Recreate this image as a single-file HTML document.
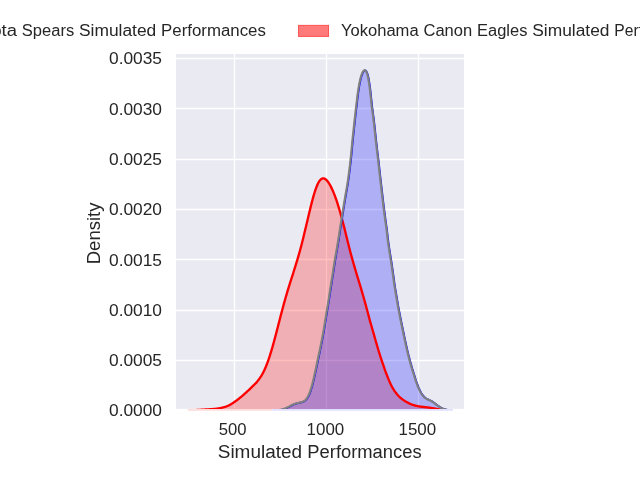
<!DOCTYPE html>
<html><head><meta charset="utf-8"><title>KDE</title>
<style>
html,body{margin:0;padding:0;background:#ffffff;}
body{width:640px;height:480px;overflow:hidden;}
svg{display:block;will-change:transform;}
text{font-family:"Liberation Sans",sans-serif;fill:#262626;}
</style></head><body>
<svg width="640" height="480" viewBox="0 0 640 480">
<rect x="0" y="0" width="640" height="480" fill="#ffffff"/>
<rect x="176" y="54" width="288" height="354.85" fill="#eaeaf2"/>
<g stroke="#ffffff" stroke-width="1.3">
<line x1="176" x2="464" y1="58.50" y2="58.50"/>
<line x1="176" x2="464" y1="108.50" y2="108.50"/>
<line x1="176" x2="464" y1="159.50" y2="159.50"/>
<line x1="176" x2="464" y1="209.50" y2="209.50"/>
<line x1="176" x2="464" y1="259.50" y2="259.50"/>
<line x1="176" x2="464" y1="310.50" y2="310.50"/>
<line x1="176" x2="464" y1="360.50" y2="360.50"/>
<line x1="234.50" x2="234.50" y1="54" y2="408.85"/>
<line x1="326.50" x2="326.50" y1="54" y2="408.85"/>
<line x1="418.50" x2="418.50" y1="54" y2="408.85"/>
</g>
<rect x="188" y="408.85" width="84.3" height="1.9" fill="#ffdcdc"/>
<rect x="272.3" y="408.85" width="180.5" height="1.9" fill="#e2e0ff"/>
<defs><clipPath id="ax"><rect x="176" y="54" width="288" height="354.9"/></clipPath></defs>
<g clip-path="url(#ax)">
<path d="M187.00,410.59 L187.50,410.58 L188.00,410.55 L188.50,410.53 L189.00,410.51 L189.50,410.49 L190.00,410.46 L190.50,410.44 L191.00,410.41 L191.50,410.38 L192.00,410.36 L192.50,410.33 L193.00,410.30 L193.50,410.27 L194.00,410.24 L194.50,410.20 L195.00,410.17 L195.50,410.14 L196.00,410.11 L196.50,410.07 L197.00,410.04 L197.50,410.01 L198.00,409.97 L198.50,409.94 L199.00,409.91 L199.50,409.87 L200.00,409.84 L200.50,409.81 L201.00,409.77 L201.50,409.74 L202.00,409.71 L202.50,409.68 L203.00,409.65 L203.50,409.62 L204.00,409.59 L204.50,409.56 L205.00,409.53 L205.50,409.50 L206.00,409.48 L206.50,409.45 L207.00,409.42 L207.50,409.40 L208.00,409.37 L208.50,409.34 L209.00,409.31 L209.50,409.28 L210.00,409.25 L210.50,409.22 L211.00,409.19 L211.50,409.16 L212.00,409.12 L212.50,409.08 L213.00,409.04 L213.50,409.00 L214.00,408.95 L214.50,408.90 L215.00,408.84 L215.50,408.80 L216.00,408.76 L216.50,408.71 L217.00,408.65 L217.50,408.59 L218.00,408.52 L218.50,408.45 L219.00,408.36 L219.50,408.27 L220.00,408.18 L220.50,408.07 L221.00,407.95 L221.50,407.83 L222.00,407.70 L222.50,407.59 L223.00,407.47 L223.50,407.35 L224.00,407.21 L224.50,407.06 L225.00,406.91 L225.50,406.74 L226.00,406.57 L226.50,406.38 L227.00,406.19 L227.50,405.98 L228.00,405.77 L228.50,405.54 L229.00,405.31 L229.50,405.07 L230.00,404.82 L230.50,404.53 L231.00,404.23 L231.50,403.92 L232.00,403.61 L232.50,403.28 L233.00,402.95 L233.50,402.62 L234.00,402.28 L234.50,401.93 L235.00,401.58 L235.50,401.22 L236.00,400.86 L236.50,400.50 L237.00,400.13 L237.50,399.75 L238.00,399.36 L238.50,398.97 L239.00,398.58 L239.50,398.19 L240.00,397.79 L240.50,397.39 L241.00,396.99 L241.50,396.59 L242.00,396.19 L242.50,395.74 L243.00,395.29 L243.50,394.84 L244.00,394.39 L244.50,393.93 L245.00,393.48 L245.50,393.03 L246.00,392.58 L246.50,392.12 L247.00,391.67 L247.50,391.20 L248.00,390.74 L248.50,390.27 L249.00,389.80 L249.50,389.33 L250.00,388.85 L250.50,388.38 L251.00,387.89 L251.50,387.41 L252.00,386.91 L252.50,386.44 L253.00,385.95 L253.50,385.46 L254.00,384.96 L254.50,384.44 L255.00,383.91 L255.57,383.37 L256.31,382.81 L256.95,381.75 L257.45,381.18 L257.95,380.58 L258.45,379.96 L258.95,379.31 L259.45,378.64 L259.95,377.93 L260.45,377.19 L260.95,376.42 L261.45,375.62 L261.95,374.77 L262.45,373.89 L262.95,372.96 L263.45,372.00 L263.95,370.99 L264.45,369.94 L264.95,368.84 L265.45,367.70 L265.95,366.50 L266.45,365.27 L266.95,363.98 L267.46,362.65 L267.96,361.27 L268.46,359.85 L268.96,358.38 L269.47,356.87 L269.97,355.31 L270.47,353.71 L270.98,352.08 L271.48,350.40 L271.99,348.69 L272.49,346.95 L272.99,345.17 L273.50,343.37 L274.00,341.54 L274.50,339.68 L275.00,337.81 L275.50,335.92 L276.00,334.01 L276.50,332.09 L277.00,330.16 L277.50,328.22 L278.00,326.28 L278.50,324.33 L279.00,322.39 L279.50,320.45 L280.00,318.51 L280.50,316.58 L281.00,314.66 L281.50,312.76 L282.00,310.86 L282.50,308.98 L283.00,307.11 L283.50,305.26 L284.00,303.43 L284.50,301.62 L285.00,299.82 L285.50,298.05 L286.00,296.29 L286.51,294.56 L287.02,292.84 L287.53,291.14 L288.03,289.46 L288.54,287.81 L289.05,286.16 L289.56,284.54 L290.06,282.93 L290.57,281.34 L291.08,279.76 L291.59,278.19 L292.09,276.63 L292.60,275.08 L293.08,273.53 L293.56,271.99 L294.04,270.45 L294.52,268.91 L295.00,267.37 L295.48,265.83 L295.96,264.27 L296.44,262.71 L296.92,261.13 L297.40,259.54 L297.88,257.93 L298.36,256.30 L298.83,254.65 L299.31,252.98 L299.79,251.27 L300.27,249.54 L300.74,247.79 L301.22,246.00 L301.69,244.17 L302.17,242.32 L302.64,240.43 L303.12,238.51 L303.59,236.56 L304.06,234.58 L304.54,232.57 L305.01,230.53 L305.50,228.49 L306.00,226.43 L306.50,224.35 L307.00,222.25 L307.50,220.15 L308.00,218.04 L308.50,215.93 L309.00,213.82 L309.50,211.73 L310.00,209.66 L310.50,207.61 L311.00,205.58 L311.50,203.60 L312.00,201.65 L312.50,199.76 L313.00,197.92 L313.50,196.14 L314.00,194.42 L314.50,192.78 L315.00,191.21 L315.50,189.70 L316.00,188.28 L316.50,186.95 L317.00,185.71 L317.50,184.56 L318.00,183.51 L318.50,182.56 L319.00,181.71 L319.50,180.96 L320.00,180.30 L320.50,179.75 L321.00,179.29 L321.50,178.92 L322.00,178.66 L322.50,178.48 L323.00,178.39 L323.50,178.39 L324.00,178.48 L324.50,178.64 L325.00,178.89 L325.50,179.21 L326.00,179.60 L326.50,180.05 L327.00,180.58 L327.50,181.17 L328.00,181.81 L328.50,182.52 L329.00,183.28 L329.50,184.10 L330.00,184.97 L330.50,185.89 L331.00,186.86 L331.50,187.88 L332.00,188.95 L332.50,190.04 L333.00,191.18 L333.50,192.36 L334.00,193.59 L334.50,194.87 L335.00,196.19 L335.50,197.55 L336.00,198.96 L336.50,200.41 L337.00,201.91 L337.50,203.45 L338.00,205.02 L338.50,206.64 L339.00,208.30 L339.50,209.99 L340.00,211.72 L340.50,213.50 L341.00,215.31 L341.50,217.15 L342.00,219.01 L342.50,220.90 L343.00,222.80 L343.50,224.72 L344.00,226.64 L344.50,228.58 L344.99,230.52 L345.47,232.47 L345.94,234.41 L346.41,236.35 L346.89,238.28 L347.36,240.21 L347.83,242.12 L348.31,244.02 L348.78,245.90 L349.26,247.77 L349.73,249.61 L350.21,251.44 L350.69,253.25 L351.17,255.05 L351.66,256.82 L352.14,258.57 L352.63,260.30 L353.11,262.02 L353.60,263.72 L354.08,265.40 L354.57,267.07 L355.05,268.73 L355.54,270.38 L356.03,272.02 L356.51,273.66 L357.00,275.29 L357.50,276.92 L358.00,278.55 L358.50,280.18 L359.00,281.82 L359.50,283.46 L360.00,285.11 L360.50,286.77 L361.00,288.44 L361.50,290.13 L362.00,291.83 L362.50,293.54 L363.00,295.27 L363.50,297.01 L364.00,298.77 L364.50,300.55 L365.00,302.34 L365.50,304.16 L366.00,305.99 L366.50,307.83 L367.00,309.69 L367.50,311.57 L368.00,313.46 L368.50,315.36 L369.00,317.28 L369.50,319.21 L370.04,321.14 L370.60,323.09 L371.17,325.04 L371.73,327.00 L372.30,328.96 L372.86,330.93 L373.43,332.89 L374.00,334.85 L374.55,336.81 L375.11,338.77 L375.67,340.71 L376.23,342.65 L376.78,344.58 L377.34,346.49 L377.89,348.39 L378.45,350.27 L379.01,352.13 L379.59,353.97 L380.17,355.79 L380.76,357.58 L381.34,359.35 L381.92,361.08 L382.50,362.79 L383.08,364.46 L383.63,366.10 L384.18,367.71 L384.73,369.28 L385.27,370.81 L385.82,372.30 L386.36,373.76 L386.90,375.17 L387.43,376.54 L387.95,377.87 L388.47,379.16 L388.99,380.40 L389.51,381.60 L390.03,382.76 L390.55,383.88 L391.07,384.95 L391.58,385.98 L392.10,386.98 L392.65,387.93 L393.19,388.84 L393.74,389.71 L394.28,390.54 L394.82,391.34 L395.36,392.10 L395.89,392.83 L396.43,393.52 L396.96,394.18 L397.49,394.81 L398.04,395.42 L398.61,395.99 L399.16,396.54 L399.72,397.06 L400.27,397.56 L400.82,398.03 L401.37,398.49 L401.92,398.92 L402.46,399.34 L403.00,399.73 L403.55,400.11 L404.08,400.47 L404.62,400.82 L405.16,401.15 L405.69,401.47 L406.22,401.78 L406.75,402.07 L407.28,402.35 L407.79,402.62 L408.26,402.88 L408.73,403.13 L409.20,403.36 L409.68,403.59 L410.15,403.81 L410.63,404.02 L411.10,404.22 L411.58,404.41 L412.06,404.59 L412.54,404.76 L413.02,404.92 L413.51,405.08 L413.99,405.23 L414.47,405.37 L414.96,405.50 L415.44,405.62 L415.93,405.74 L416.42,405.85 L416.90,405.96 L417.37,406.06 L417.82,406.15 L418.27,406.24 L418.72,406.32 L419.18,406.40 L419.64,406.47 L420.10,406.54 L420.56,406.61 L421.03,406.68 L421.50,406.74 L421.96,406.79 L422.43,406.85 L422.90,406.91 L423.37,406.96 L423.84,407.01 L424.31,407.07 L424.78,407.12 L425.25,407.17 L425.72,407.23 L426.19,407.28 L426.66,407.34 L427.13,407.40 L427.60,407.45 L428.07,407.51 L428.53,407.58 L429.00,407.64 L429.46,407.70 L429.93,407.77 L430.39,407.84 L430.85,407.91 L431.31,407.98 L431.76,408.06 L432.22,408.13 L432.67,408.21 L433.11,408.28 L433.56,408.36 L434.01,408.44 L434.46,408.52 L434.91,408.61 L435.35,408.69 L435.80,408.77 L436.25,408.85 L436.69,408.93 L437.14,409.01 L437.59,409.09 L438.04,409.17 L438.49,409.25 L438.94,409.33 L439.39,409.40 L439.84,409.48 L440.29,409.55 L440.75,409.62 L441.20,409.69 L441.66,409.76 L442.12,409.82 L442.58,409.88 L443.04,409.94 L443.50,410.00 L444.00,410.06 L444.50,410.11 L445.00,410.16 L445.50,410.21 L446.00,410.25 L446.50,410.30 L447.00,410.34 L447.50,410.38 L448.00,410.42 L448.00,412 L187.00,412 Z" fill="#ff0000" fill-opacity="0.25"/>
<path d="M271.50,410.77 L272.00,410.76 L272.50,410.74 L273.00,410.72 L273.50,410.70 L274.00,410.67 L274.50,410.64 L275.00,410.61 L275.50,410.57 L276.00,410.53 L276.50,410.48 L277.00,410.43 L277.50,410.38 L278.00,410.32 L278.50,410.25 L279.00,410.17 L279.50,410.09 L280.00,410.01 L280.50,409.91 L281.00,409.81 L281.50,409.70 L282.00,409.58 L282.50,409.45 L283.00,409.31 L283.50,409.16 L284.00,409.01 L284.50,408.84 L285.00,408.66 L285.50,408.47 L286.00,408.27 L286.50,408.06 L287.00,407.84 L287.50,407.61 L288.00,407.37 L288.50,407.12 L289.00,406.87 L289.50,406.61 L290.00,406.35 L290.50,406.09 L291.00,405.82 L291.50,405.56 L292.00,405.31 L292.50,405.06 L293.00,404.81 L293.50,404.58 L294.00,404.36 L294.50,404.15 L295.00,403.95 L295.50,403.77 L296.00,403.60 L296.50,403.44 L297.00,403.30 L297.50,403.17 L298.00,403.05 L298.50,402.93 L299.00,402.83 L299.50,402.72 L300.00,402.62 L300.50,402.51 L301.00,402.40 L301.50,402.28 L302.00,402.14 L302.50,401.98 L303.00,401.80 L303.50,401.58 L304.00,401.33 L304.50,401.04 L305.00,400.70 L305.50,400.30 L306.00,399.84 L306.50,399.30 L307.00,398.69 L307.50,398.00 L308.00,397.21 L308.50,396.32 L309.00,395.33 L309.50,394.23 L310.00,393.01 L310.50,391.68 L311.00,390.22 L311.50,388.66 L312.00,386.97 L312.50,385.18 L313.00,383.29 L313.50,381.29 L314.00,379.21 L314.50,377.06 L315.00,374.84 L315.50,372.57 L316.00,370.26 L316.50,367.92 L317.00,365.56 L317.50,363.19 L318.00,360.82 L318.50,358.44 L319.00,356.07 L319.50,353.70 L320.00,351.33 L320.50,348.94 L321.00,346.53 L321.50,344.09 L322.00,341.61 L322.50,339.06 L323.00,336.44 L323.50,333.74 L324.00,330.93 L324.50,328.02 L325.00,324.99 L325.50,321.85 L326.03,318.60 L326.60,315.24 L327.18,311.79 L327.76,308.27 L328.33,304.68 L328.91,301.05 L329.49,297.41 L330.04,293.78 L330.59,290.19 L331.14,286.65 L331.69,283.19 L332.23,279.83 L332.78,276.57 L333.27,273.43 L333.70,270.40 L334.14,267.49 L334.58,264.67 L335.02,261.95 L335.46,259.29 L335.90,256.67 L336.35,254.08 L336.79,251.48 L337.26,248.86 L337.72,246.20 L338.18,243.47 L338.65,240.66 L339.11,237.76 L339.57,234.78 L340.02,231.71 L340.51,228.57 L341.03,225.36 L341.55,222.11 L342.07,218.82 L342.60,215.53 L343.12,212.26 L343.64,209.01 L344.16,205.81 L344.68,202.66 L345.20,199.57 L345.72,196.53 L346.24,193.53 L346.76,190.57 L347.28,187.60 L347.79,184.62 L348.25,181.59 L348.70,178.47 L349.15,175.25 L349.60,171.88 L350.04,168.34 L350.48,164.62 L350.92,160.70 L351.36,156.58 L351.79,152.27 L352.22,147.77 L352.65,143.13 L353.11,138.36 L353.64,133.50 L354.17,128.61 L354.69,123.72 L355.22,118.89 L355.75,114.17 L356.27,109.59 L356.80,105.21 L357.28,101.05 L357.75,97.14 L358.23,93.51 L358.71,90.16 L359.19,87.11 L359.67,84.34 L360.16,81.86 L360.65,79.65 L361.13,77.70 L361.62,76.00 L362.12,74.52 L362.61,73.27 L363.10,72.24 L363.60,71.41 L364.10,70.81 L364.60,70.43 L365.10,70.28 L365.60,70.39 L366.10,70.77 L366.60,71.45 L367.09,72.43 L367.58,73.75 L368.06,75.42 L368.53,77.44 L369.00,79.83 L369.46,82.58 L369.91,85.68 L370.35,89.11 L370.79,92.86 L371.23,96.89 L371.66,101.18 L372.12,105.67 L372.76,110.35 L373.40,115.15 L374.04,120.05 L374.62,125.01 L375.14,130.00 L375.67,134.97 L376.20,139.92 L376.77,144.82 L377.33,149.66 L377.90,154.43 L378.46,159.13 L379.00,163.75 L379.50,168.31 L380.00,172.81 L380.50,177.25 L381.00,181.64 L381.50,185.99 L382.00,190.29 L382.50,194.55 L383.00,198.76 L383.50,202.92 L384.00,207.03 L384.52,211.07 L385.03,215.03 L385.55,218.90 L386.07,222.68 L386.58,226.35 L387.10,229.91 L387.47,233.35 L387.83,236.67 L388.20,239.88 L388.64,242.98 L389.08,245.99 L389.52,248.91 L389.96,251.77 L390.40,254.58 L390.84,257.36 L391.29,260.13 L391.72,262.90 L392.14,265.70 L392.55,268.53 L392.96,271.41 L393.37,274.33 L393.78,277.32 L394.19,280.35 L394.60,283.44 L395.07,286.56 L395.60,289.72 L396.14,292.90 L396.68,296.08 L397.21,299.26 L397.75,302.42 L398.28,305.55 L398.84,308.63 L399.42,311.67 L400.00,314.66 L400.58,317.59 L401.15,320.45 L401.72,323.26 L402.30,326.01 L402.87,328.70 L403.42,331.34 L403.95,333.93 L404.49,336.48 L405.02,338.99 L405.56,341.47 L406.09,343.90 L406.62,346.30 L407.15,348.67 L407.69,351.00 L408.24,353.29 L408.81,355.53 L409.37,357.73 L409.94,359.88 L410.50,361.97 L411.07,364.01 L411.63,365.98 L412.18,367.89 L412.74,369.74 L413.29,371.52 L413.85,373.23 L414.40,374.88 L414.87,376.47 L415.33,378.00 L415.79,379.46 L416.26,380.88 L416.73,382.24 L417.20,383.54 L417.67,384.80 L418.14,386.01 L418.61,387.17 L419.09,388.27 L419.56,389.33 L420.04,390.34 L420.52,391.30 L421.00,392.20 L421.50,393.04 L422.00,393.83 L422.50,394.56 L423.00,395.23 L423.50,395.85 L424.00,396.40 L424.50,396.91 L425.00,397.36 L425.50,397.77 L426.00,398.13 L426.50,398.46 L427.00,398.75 L427.50,399.02 L428.00,399.27 L428.50,399.51 L429.00,399.74 L429.50,399.97 L430.00,400.20 L430.50,400.44 L431.00,400.69 L431.50,400.96 L432.00,401.24 L432.50,401.54 L433.00,401.85 L433.50,402.18 L434.00,402.53 L434.50,402.89 L435.00,403.26 L435.50,403.64 L436.00,404.02 L436.50,404.40 L437.00,404.78 L437.50,405.16 L438.00,405.53 L438.50,405.89 L439.00,406.24 L439.50,406.58 L440.00,406.90 L440.50,407.20 L441.00,407.49 L441.50,407.76 L442.00,408.02 L442.50,408.26 L443.00,408.48 L443.50,408.68 L444.00,408.87 L444.50,409.05 L445.00,409.21 L445.50,409.36 L446.00,409.50 L446.50,409.63 L447.00,409.75 L447.50,409.86 L448.00,409.96 L448.50,410.05 L449.00,410.14 L449.50,410.21 L450.00,410.28 L450.50,410.35 L451.00,410.41 L451.50,410.46 L452.00,410.51 L452.50,410.55 L453.00,410.59 L453.50,410.63 L454.00,410.66 L454.50,410.69 L455.00,410.71 L455.50,410.73 L455.50,412 L271.50,412 Z" fill="#0000ff" fill-opacity="0.25"/>
<path d="M187.00,410.59 L187.50,410.58 L188.00,410.55 L188.50,410.53 L189.00,410.51 L189.50,410.49 L190.00,410.46 L190.50,410.44 L191.00,410.41 L191.50,410.38 L192.00,410.36 L192.50,410.33 L193.00,410.30 L193.50,410.27 L194.00,410.24 L194.50,410.20 L195.00,410.17 L195.50,410.14 L196.00,410.11 L196.50,410.07 L197.00,410.04 L197.50,410.01 L198.00,409.97 L198.50,409.94 L199.00,409.91 L199.50,409.87 L200.00,409.84 L200.50,409.81 L201.00,409.77 L201.50,409.74 L202.00,409.71 L202.50,409.68 L203.00,409.65 L203.50,409.62 L204.00,409.59 L204.50,409.56 L205.00,409.53 L205.50,409.50 L206.00,409.48 L206.50,409.45 L207.00,409.42 L207.50,409.40 L208.00,409.37 L208.50,409.34 L209.00,409.31 L209.50,409.28 L210.00,409.25 L210.50,409.22 L211.00,409.19 L211.50,409.16 L212.00,409.12 L212.50,409.08 L213.00,409.04 L213.50,409.00 L214.00,408.95 L214.50,408.90 L215.00,408.84 L215.50,408.80 L216.00,408.76 L216.50,408.71 L217.00,408.65 L217.50,408.59 L218.00,408.52 L218.50,408.45 L219.00,408.36 L219.50,408.27 L220.00,408.18 L220.50,408.07 L221.00,407.95 L221.50,407.83 L222.00,407.70 L222.50,407.59 L223.00,407.47 L223.50,407.35 L224.00,407.21 L224.50,407.06 L225.00,406.91 L225.50,406.74 L226.00,406.57 L226.50,406.38 L227.00,406.19 L227.50,405.98 L228.00,405.77 L228.50,405.54 L229.00,405.31 L229.50,405.07 L230.00,404.82 L230.50,404.53 L231.00,404.23 L231.50,403.92 L232.00,403.61 L232.50,403.28 L233.00,402.95 L233.50,402.62 L234.00,402.28 L234.50,401.93 L235.00,401.58 L235.50,401.22 L236.00,400.86 L236.50,400.50 L237.00,400.13 L237.50,399.75 L238.00,399.36 L238.50,398.97 L239.00,398.58 L239.50,398.19 L240.00,397.79 L240.50,397.39 L241.00,396.99 L241.50,396.59 L242.00,396.19 L242.50,395.74 L243.00,395.29 L243.50,394.84 L244.00,394.39 L244.50,393.93 L245.00,393.48 L245.50,393.03 L246.00,392.58 L246.50,392.12 L247.00,391.67 L247.50,391.20 L248.00,390.74 L248.50,390.27 L249.00,389.80 L249.50,389.33 L250.00,388.85 L250.50,388.38 L251.00,387.89 L251.50,387.41 L252.00,386.91 L252.50,386.44 L253.00,385.95 L253.50,385.46 L254.00,384.96 L254.50,384.44 L255.00,383.91 L255.57,383.37 L256.31,382.81 L256.95,381.75 L257.45,381.18 L257.95,380.58 L258.45,379.96 L258.95,379.31 L259.45,378.64 L259.95,377.93 L260.45,377.19 L260.95,376.42 L261.45,375.62 L261.95,374.77 L262.45,373.89 L262.95,372.96 L263.45,372.00 L263.95,370.99 L264.45,369.94 L264.95,368.84 L265.45,367.70 L265.95,366.50 L266.45,365.27 L266.95,363.98 L267.46,362.65 L267.96,361.27 L268.46,359.85 L268.96,358.38 L269.47,356.87 L269.97,355.31 L270.47,353.71 L270.98,352.08 L271.48,350.40 L271.99,348.69 L272.49,346.95 L272.99,345.17 L273.50,343.37 L274.00,341.54 L274.50,339.68 L275.00,337.81 L275.50,335.92 L276.00,334.01 L276.50,332.09 L277.00,330.16 L277.50,328.22 L278.00,326.28 L278.50,324.33 L279.00,322.39 L279.50,320.45 L280.00,318.51 L280.50,316.58 L281.00,314.66 L281.50,312.76 L282.00,310.86 L282.50,308.98 L283.00,307.11 L283.50,305.26 L284.00,303.43 L284.50,301.62 L285.00,299.82 L285.50,298.05 L286.00,296.29 L286.51,294.56 L287.02,292.84 L287.53,291.14 L288.03,289.46 L288.54,287.81 L289.05,286.16 L289.56,284.54 L290.06,282.93 L290.57,281.34 L291.08,279.76 L291.59,278.19 L292.09,276.63 L292.60,275.08 L293.08,273.53 L293.56,271.99 L294.04,270.45 L294.52,268.91 L295.00,267.37 L295.48,265.83 L295.96,264.27 L296.44,262.71 L296.92,261.13 L297.40,259.54 L297.88,257.93 L298.36,256.30 L298.83,254.65 L299.31,252.98 L299.79,251.27 L300.27,249.54 L300.74,247.79 L301.22,246.00 L301.69,244.17 L302.17,242.32 L302.64,240.43 L303.12,238.51 L303.59,236.56 L304.06,234.58 L304.54,232.57 L305.01,230.53 L305.50,228.49 L306.00,226.43 L306.50,224.35 L307.00,222.25 L307.50,220.15 L308.00,218.04 L308.50,215.93 L309.00,213.82 L309.50,211.73 L310.00,209.66 L310.50,207.61 L311.00,205.58 L311.50,203.60 L312.00,201.65 L312.50,199.76 L313.00,197.92 L313.50,196.14 L314.00,194.42 L314.50,192.78 L315.00,191.21 L315.50,189.70 L316.00,188.28 L316.50,186.95 L317.00,185.71 L317.50,184.56 L318.00,183.51 L318.50,182.56 L319.00,181.71 L319.50,180.96 L320.00,180.30 L320.50,179.75 L321.00,179.29 L321.50,178.92 L322.00,178.66 L322.50,178.48 L323.00,178.39 L323.50,178.39 L324.00,178.48 L324.50,178.64 L325.00,178.89 L325.50,179.21 L326.00,179.60 L326.50,180.05 L327.00,180.58 L327.50,181.17 L328.00,181.81 L328.50,182.52 L329.00,183.28 L329.50,184.10 L330.00,184.97 L330.50,185.89 L331.00,186.86 L331.50,187.88 L332.00,188.95 L332.50,190.04 L333.00,191.18 L333.50,192.36 L334.00,193.59 L334.50,194.87 L335.00,196.19 L335.50,197.55 L336.00,198.96 L336.50,200.41 L337.00,201.91 L337.50,203.45 L338.00,205.02 L338.50,206.64 L339.00,208.30 L339.50,209.99 L340.00,211.72 L340.50,213.50 L341.00,215.31 L341.50,217.15 L342.00,219.01 L342.50,220.90 L343.00,222.80 L343.50,224.72 L344.00,226.64 L344.50,228.58 L344.99,230.52 L345.47,232.47 L345.94,234.41 L346.41,236.35 L346.89,238.28 L347.36,240.21 L347.83,242.12 L348.31,244.02 L348.78,245.90 L349.26,247.77 L349.73,249.61 L350.21,251.44 L350.69,253.25 L351.17,255.05 L351.66,256.82 L352.14,258.57 L352.63,260.30 L353.11,262.02 L353.60,263.72 L354.08,265.40 L354.57,267.07 L355.05,268.73 L355.54,270.38 L356.03,272.02 L356.51,273.66 L357.00,275.29 L357.50,276.92 L358.00,278.55 L358.50,280.18 L359.00,281.82 L359.50,283.46 L360.00,285.11 L360.50,286.77 L361.00,288.44 L361.50,290.13 L362.00,291.83 L362.50,293.54 L363.00,295.27 L363.50,297.01 L364.00,298.77 L364.50,300.55 L365.00,302.34 L365.50,304.16 L366.00,305.99 L366.50,307.83 L367.00,309.69 L367.50,311.57 L368.00,313.46 L368.50,315.36 L369.00,317.28 L369.50,319.21 L370.04,321.14 L370.60,323.09 L371.17,325.04 L371.73,327.00 L372.30,328.96 L372.86,330.93 L373.43,332.89 L374.00,334.85 L374.55,336.81 L375.11,338.77 L375.67,340.71 L376.23,342.65 L376.78,344.58 L377.34,346.49 L377.89,348.39 L378.45,350.27 L379.01,352.13 L379.59,353.97 L380.17,355.79 L380.76,357.58 L381.34,359.35 L381.92,361.08 L382.50,362.79 L383.08,364.46 L383.63,366.10 L384.18,367.71 L384.73,369.28 L385.27,370.81 L385.82,372.30 L386.36,373.76 L386.90,375.17 L387.43,376.54 L387.95,377.87 L388.47,379.16 L388.99,380.40 L389.51,381.60 L390.03,382.76 L390.55,383.88 L391.07,384.95 L391.58,385.98 L392.10,386.98 L392.65,387.93 L393.19,388.84 L393.74,389.71 L394.28,390.54 L394.82,391.34 L395.36,392.10 L395.89,392.83 L396.43,393.52 L396.96,394.18 L397.49,394.81 L398.04,395.42 L398.61,395.99 L399.16,396.54 L399.72,397.06 L400.27,397.56 L400.82,398.03 L401.37,398.49 L401.92,398.92 L402.46,399.34 L403.00,399.73 L403.55,400.11 L404.08,400.47 L404.62,400.82 L405.16,401.15 L405.69,401.47 L406.22,401.78 L406.75,402.07 L407.28,402.35 L407.79,402.62 L408.26,402.88 L408.73,403.13 L409.20,403.36 L409.68,403.59 L410.15,403.81 L410.63,404.02 L411.10,404.22 L411.58,404.41 L412.06,404.59 L412.54,404.76 L413.02,404.92 L413.51,405.08 L413.99,405.23 L414.47,405.37 L414.96,405.50 L415.44,405.62 L415.93,405.74 L416.42,405.85 L416.90,405.96 L417.37,406.06 L417.82,406.15 L418.27,406.24 L418.72,406.32 L419.18,406.40 L419.64,406.47 L420.10,406.54 L420.56,406.61 L421.03,406.68 L421.50,406.74 L421.96,406.79 L422.43,406.85 L422.90,406.91 L423.37,406.96 L423.84,407.01 L424.31,407.07 L424.78,407.12 L425.25,407.17 L425.72,407.23 L426.19,407.28 L426.66,407.34 L427.13,407.40 L427.60,407.45 L428.07,407.51 L428.53,407.58 L429.00,407.64 L429.46,407.70 L429.93,407.77 L430.39,407.84 L430.85,407.91 L431.31,407.98 L431.76,408.06 L432.22,408.13 L432.67,408.21 L433.11,408.28 L433.56,408.36 L434.01,408.44 L434.46,408.52 L434.91,408.61 L435.35,408.69 L435.80,408.77 L436.25,408.85 L436.69,408.93 L437.14,409.01 L437.59,409.09 L438.04,409.17 L438.49,409.25 L438.94,409.33 L439.39,409.40 L439.84,409.48 L440.29,409.55 L440.75,409.62 L441.20,409.69 L441.66,409.76 L442.12,409.82 L442.58,409.88 L443.04,409.94 L443.50,410.00 L444.00,410.06 L444.50,410.11 L445.00,410.16 L445.50,410.21 L446.00,410.25 L446.50,410.30 L447.00,410.34 L447.50,410.38 L448.00,410.42" fill="none" stroke="#ff0000" stroke-width="2.35" stroke-linejoin="round" stroke-linecap="butt"/>
<path d="M271.45,410.87 L271.95,410.86 L272.45,410.84 L272.95,410.82 L273.45,410.80 L273.95,410.77 L274.45,410.74 L274.95,410.71 L275.45,410.67 L275.95,410.63 L276.45,410.58 L276.95,410.53 L277.45,410.48 L277.95,410.42 L278.45,410.35 L278.95,410.27 L279.45,410.19 L279.95,410.11 L280.45,410.01 L280.95,409.91 L281.45,409.80 L281.95,409.68 L282.45,409.55 L282.95,409.41 L283.45,409.26 L283.95,409.11 L284.45,408.94 L284.95,408.76 L285.45,408.57 L285.95,408.37 L286.45,408.16 L286.95,407.94 L287.45,407.71 L287.95,407.47 L288.45,407.22 L288.95,406.97 L289.45,406.71 L289.95,406.45 L290.45,406.19 L290.95,405.92 L291.45,405.66 L291.95,405.41 L292.45,405.16 L292.95,404.91 L293.45,404.68 L293.95,404.46 L294.45,404.25 L294.95,404.05 L295.45,403.87 L295.95,403.70 L296.45,403.54 L296.95,403.40 L297.45,403.27 L297.95,403.15 L298.45,403.03 L298.95,402.93 L299.45,402.82 L299.95,402.72 L300.45,402.61 L300.95,402.50 L301.45,402.38 L301.95,402.24 L302.45,402.08 L302.95,401.90 L303.45,401.68 L303.95,401.43 L304.45,401.14 L304.95,400.80 L305.45,400.40 L305.95,399.94 L306.45,399.40 L306.95,398.79 L307.45,398.10 L307.95,397.31 L308.45,396.42 L308.95,395.43 L309.45,394.33 L309.95,393.11 L310.45,391.78 L310.95,390.32 L311.45,388.76 L311.95,387.07 L312.45,385.28 L312.95,383.39 L313.45,381.39 L313.95,379.31 L314.45,377.16 L314.95,374.94 L315.45,372.67 L315.95,370.36 L316.45,368.02 L316.95,365.66 L317.45,363.29 L317.95,360.92 L318.45,358.54 L318.95,356.17 L319.45,353.80 L319.95,351.43 L320.45,349.04 L320.95,346.63 L321.45,344.19 L321.95,341.71 L322.45,339.16 L322.95,336.54 L323.45,333.84 L323.95,331.03 L324.45,328.12 L324.95,325.09 L325.45,321.95 L325.98,318.70 L326.55,315.34 L327.13,311.89 L327.71,308.37 L328.28,304.78 L328.86,301.15 L329.44,297.51 L329.99,293.88 L330.54,290.29 L331.09,286.75 L331.64,283.29 L332.18,279.93 L332.73,276.67 L333.22,273.53 L333.65,270.50 L334.09,267.59 L334.53,264.77 L334.97,262.05 L335.41,259.39 L335.85,256.77 L336.30,254.18 L336.74,251.58 L337.21,248.96 L337.67,246.30 L338.13,243.57 L338.60,240.76 L339.06,237.86 L339.52,234.88 L339.97,231.81 L340.46,228.67 L340.98,225.46 L341.50,222.21 L342.02,218.92 L342.55,215.63 L343.07,212.36 L343.59,209.11 L344.11,205.91 L344.63,202.76 L345.15,199.67 L345.67,196.63 L346.19,193.63 L346.71,190.67 L347.23,187.70 L347.74,184.72 L348.20,181.69 L348.65,178.57 L349.10,175.35 L349.55,171.98 L349.99,168.44 L350.43,164.72 L350.87,160.80 L351.31,156.68 L351.74,152.37 L352.17,147.87 L352.60,143.23 L353.06,138.46 L353.59,133.60 L354.12,128.71 L354.64,123.82 L355.17,118.99 L355.70,114.27 L356.22,109.69 L356.75,105.31 L357.23,101.15 L357.70,97.24 L358.18,93.61 L358.66,90.26 L359.14,87.21 L359.62,84.44 L360.11,81.96 L360.60,79.75 L361.08,77.80 L361.57,76.10 L362.07,74.62 L362.56,73.37 L363.05,72.34 L363.55,71.51 L364.05,70.91 L364.55,70.53 L365.05,70.38 L365.55,70.49 L366.05,70.87 L366.55,71.55 L367.04,72.53 L367.53,73.85 L368.01,75.52 L368.48,77.54 L368.95,79.93 L369.41,82.68 L369.86,85.78 L370.30,89.21 L370.74,92.96 L371.18,96.99 L371.61,101.28 L372.07,105.77 L372.71,110.45 L373.35,115.25 L373.99,120.15 L374.57,125.11 L375.09,130.10 L375.62,135.07 L376.15,140.02 L376.72,144.92 L377.28,149.76 L377.85,154.53 L378.41,159.23 L378.95,163.85 L379.45,168.41 L379.95,172.91 L380.45,177.35 L380.95,181.74 L381.45,186.09 L381.95,190.39 L382.45,194.65 L382.95,198.86 L383.45,203.02 L383.95,207.13 L384.47,211.17 L384.98,215.13 L385.50,219.00 L386.02,222.78 L386.53,226.45 L387.05,230.01 L387.42,233.45 L387.78,236.77 L388.15,239.98 L388.59,243.08 L389.03,246.09 L389.47,249.01 L389.91,251.87 L390.35,254.68 L390.79,257.46 L391.24,260.23 L391.67,263.00 L392.09,265.80 L392.50,268.63 L392.91,271.51 L393.32,274.43 L393.73,277.42 L394.14,280.45 L394.55,283.54 L395.02,286.66 L395.55,289.82 L396.09,293.00 L396.63,296.18 L397.16,299.36 L397.70,302.52 L398.23,305.65 L398.79,308.73 L399.37,311.77 L399.95,314.76 L400.53,317.69 L401.10,320.55 L401.67,323.36 L402.25,326.11 L402.82,328.80 L403.37,331.44 L403.90,334.03 L404.44,336.58 L404.97,339.09 L405.51,341.57 L406.04,344.00 L406.57,346.40 L407.10,348.77 L407.64,351.10 L408.19,353.39 L408.76,355.63 L409.32,357.83 L409.89,359.98 L410.45,362.07 L411.02,364.11 L411.58,366.08 L412.13,367.99 L412.69,369.84 L413.24,371.62 L413.80,373.33 L414.35,374.98 L414.82,376.57 L415.28,378.10 L415.74,379.56 L416.21,380.98 L416.68,382.34 L417.15,383.64 L417.62,384.90 L418.09,386.11 L418.56,387.27 L419.04,388.37 L419.51,389.43 L419.99,390.44 L420.47,391.40 L420.95,392.30 L421.45,393.14 L421.95,393.93 L422.45,394.66 L422.95,395.33 L423.45,395.95 L423.95,396.50 L424.45,397.01 L424.95,397.46 L425.45,397.87 L425.95,398.23 L426.45,398.56 L426.95,398.85 L427.45,399.12 L427.95,399.37 L428.45,399.61 L428.95,399.84 L429.45,400.07 L429.95,400.30 L430.45,400.54 L430.95,400.79 L431.45,401.06 L431.95,401.34 L432.45,401.64 L432.95,401.95 L433.45,402.28 L433.95,402.63 L434.45,402.99 L434.95,403.36 L435.45,403.74 L435.95,404.12 L436.45,404.50 L436.95,404.88 L437.45,405.26 L437.95,405.63 L438.45,405.99 L438.95,406.34 L439.45,406.68 L439.95,407.00 L440.45,407.30 L440.95,407.59 L441.45,407.86 L441.95,408.12 L442.45,408.36 L442.95,408.58 L443.45,408.78 L443.95,408.97 L444.45,409.15 L444.95,409.31 L445.45,409.46 L445.95,409.60 L446.45,409.73 L446.95,409.85 L447.45,409.96 L447.95,410.06 L448.45,410.15 L448.95,410.24 L449.45,410.31 L449.95,410.38 L450.45,410.45 L450.95,410.51 L451.45,410.56 L451.95,410.61 L452.45,410.65 L452.95,410.69 L453.45,410.73 L453.95,410.76 L454.45,410.79 L454.95,410.81 L455.45,410.83" fill="none" stroke="#0000ff" stroke-width="1.8" stroke-linejoin="round"/>
<path d="M271.00,410.77 L271.50,410.76 L272.00,410.74 L272.50,410.72 L273.00,410.70 L273.50,410.67 L274.00,410.64 L274.50,410.61 L275.00,410.57 L275.50,410.53 L276.00,410.48 L276.50,410.43 L277.00,410.38 L277.50,410.32 L278.00,410.25 L278.50,410.17 L279.00,410.09 L279.50,410.01 L280.00,409.91 L280.50,409.81 L281.00,409.70 L281.50,409.58 L282.00,409.45 L282.50,409.31 L283.00,409.16 L283.50,409.01 L284.00,408.84 L284.50,408.66 L285.00,408.47 L285.50,408.27 L286.00,408.06 L286.50,407.84 L287.00,407.61 L287.50,407.37 L288.00,407.12 L288.50,406.87 L289.00,406.61 L289.50,406.35 L290.00,406.09 L290.50,405.82 L291.00,405.56 L291.50,405.31 L292.00,405.06 L292.50,404.81 L293.00,404.58 L293.50,404.36 L294.00,404.15 L294.50,403.95 L295.00,403.77 L295.50,403.60 L296.00,403.44 L296.50,403.30 L297.00,403.17 L297.50,403.05 L298.00,402.93 L298.50,402.83 L299.00,402.72 L299.50,402.62 L300.00,402.51 L300.50,402.40 L301.00,402.28 L301.50,402.14 L302.00,401.98 L302.50,401.80 L303.00,401.58 L303.50,401.33 L304.00,401.04 L304.50,400.70 L305.00,400.30 L305.50,399.84 L306.00,399.30 L306.50,398.69 L307.00,398.00 L307.50,397.21 L308.00,396.32 L308.50,395.33 L309.00,394.23 L309.50,393.01 L310.00,391.68 L310.50,390.22 L311.00,388.66 L311.50,386.97 L312.00,385.18 L312.50,383.29 L313.00,381.29 L313.50,379.21 L314.00,377.06 L314.50,374.84 L315.00,372.57 L315.50,370.26 L316.00,367.92 L316.50,365.56 L317.00,363.19 L317.50,360.82 L318.00,358.44 L318.50,356.07 L319.00,353.70 L319.50,351.33 L320.00,348.94 L320.50,346.53 L321.00,344.09 L321.50,341.61 L322.00,339.06 L322.50,336.44 L323.00,333.74 L323.50,330.93 L324.00,328.02 L324.50,324.99 L325.00,321.85 L325.53,318.60 L326.10,315.24 L326.68,311.79 L327.26,308.27 L327.83,304.68 L328.41,301.05 L328.99,297.41 L329.54,293.78 L330.09,290.19 L330.64,286.65 L331.19,283.19 L331.73,279.83 L332.28,276.57 L332.77,273.43 L333.20,270.40 L333.64,267.49 L334.08,264.67 L334.52,261.95 L334.96,259.29 L335.40,256.67 L335.85,254.08 L336.29,251.48 L336.76,248.86 L337.22,246.20 L337.68,243.47 L338.15,240.66 L338.61,237.76 L339.07,234.78 L339.52,231.71 L340.01,228.57 L340.53,225.36 L341.05,222.11 L341.57,218.82 L342.10,215.53 L342.62,212.26 L343.14,209.01 L343.66,205.81 L344.18,202.66 L344.70,199.57 L345.22,196.53 L345.74,193.53 L346.26,190.57 L346.78,187.60 L347.29,184.62 L347.75,181.59 L348.20,178.47 L348.65,175.25 L349.10,171.88 L349.54,168.34 L349.98,164.62 L350.42,160.70 L350.86,156.58 L351.29,152.27 L351.72,147.77 L352.15,143.13 L352.61,138.36 L353.14,133.50 L353.67,128.61 L354.19,123.72 L354.72,118.89 L355.25,114.17 L355.77,109.59 L356.30,105.21 L356.78,101.05 L357.25,97.14 L357.73,93.51 L358.21,90.16 L358.69,87.11 L359.17,84.34 L359.66,81.86 L360.15,79.65 L360.63,77.70 L361.12,76.00 L361.62,74.52 L362.11,73.27 L362.60,72.24 L363.10,71.41 L363.60,70.81 L364.10,70.43 L364.60,70.28 L365.10,70.39 L365.60,70.77 L366.10,71.45 L366.59,72.43 L367.08,73.75 L367.56,75.42 L368.03,77.44 L368.50,79.83 L368.96,82.58 L369.41,85.68 L369.85,89.11 L370.29,92.86 L370.73,96.89 L371.16,101.18 L371.62,105.67 L372.26,110.35 L372.90,115.15 L373.54,120.05 L374.12,125.01 L374.64,130.00 L375.17,134.97 L375.70,139.92 L376.27,144.82 L376.83,149.66 L377.40,154.43 L377.96,159.13 L378.50,163.75 L379.00,168.31 L379.50,172.81 L380.00,177.25 L380.50,181.64 L381.00,185.99 L381.50,190.29 L382.00,194.55 L382.50,198.76 L383.00,202.92 L383.50,207.03 L384.02,211.07 L384.53,215.03 L385.05,218.90 L385.57,222.68 L386.08,226.35 L386.60,229.91 L386.97,233.35 L387.33,236.67 L387.70,239.88 L388.14,242.98 L388.58,245.99 L389.02,248.91 L389.46,251.77 L389.90,254.58 L390.34,257.36 L390.79,260.13 L391.22,262.90 L391.64,265.70 L392.05,268.53 L392.46,271.41 L392.87,274.33 L393.28,277.32 L393.69,280.35 L394.10,283.44 L394.57,286.56 L395.10,289.72 L395.64,292.90 L396.18,296.08 L396.71,299.26 L397.25,302.42 L397.78,305.55 L398.34,308.63 L398.92,311.67 L399.50,314.66 L400.08,317.59 L400.65,320.45 L401.22,323.26 L401.80,326.01 L402.37,328.70 L402.92,331.34 L403.45,333.93 L403.99,336.48 L404.52,338.99 L405.06,341.47 L405.59,343.90 L406.12,346.30 L406.65,348.67 L407.19,351.00 L407.74,353.29 L408.31,355.53 L408.87,357.73 L409.44,359.88 L410.00,361.97 L410.57,364.01 L411.13,365.98 L411.68,367.89 L412.24,369.74 L412.79,371.52 L413.35,373.23 L413.90,374.88 L414.37,376.47 L414.83,378.00 L415.29,379.46 L415.76,380.88 L416.23,382.24 L416.70,383.54 L417.17,384.80 L417.64,386.01 L418.11,387.17 L418.59,388.27 L419.06,389.33 L419.54,390.34 L420.02,391.30 L420.50,392.20 L421.00,393.04 L421.50,393.83 L422.00,394.56 L422.50,395.23 L423.00,395.85 L423.50,396.40 L424.00,396.91 L424.50,397.36 L425.00,397.77 L425.50,398.13 L426.00,398.46 L426.50,398.75 L427.00,399.02 L427.50,399.27 L428.00,399.51 L428.50,399.74 L429.00,399.97 L429.50,400.20 L430.00,400.44 L430.50,400.69 L431.00,400.96 L431.50,401.24 L432.00,401.54 L432.50,401.85 L433.00,402.18 L433.50,402.53 L434.00,402.89 L434.50,403.26 L435.00,403.64 L435.50,404.02 L436.00,404.40 L436.50,404.78 L437.00,405.16 L437.50,405.53 L438.00,405.89 L438.50,406.24 L439.00,406.58 L439.50,406.90 L440.00,407.20 L440.50,407.49 L441.00,407.76 L441.50,408.02 L442.00,408.26 L442.50,408.48 L443.00,408.68 L443.50,408.87 L444.00,409.05 L444.50,409.21 L445.00,409.36 L445.50,409.50 L446.00,409.63 L446.50,409.75 L447.00,409.86 L447.50,409.96 L448.00,410.05 L448.50,410.14 L449.00,410.21 L449.50,410.28 L450.00,410.35 L450.50,410.41 L451.00,410.46 L451.50,410.51 L452.00,410.55 L452.50,410.59 L453.00,410.63 L453.50,410.66 L454.00,410.69 L454.50,410.71 L455.00,410.73" fill="none" stroke="#808080" stroke-width="2.15" stroke-linejoin="round"/>
</g>
<rect x="298.55" y="25.4" width="29.95" height="11.0" fill="#ff7b7b" stroke="#ff5555" stroke-width="1.05"/>
<text x="162.0" y="64.20" font-size="16" text-anchor="end" textLength="53.0" lengthAdjust="spacingAndGlyphs">0.0035</text>
<text x="162.0" y="114.53" font-size="16" text-anchor="end" textLength="53.0" lengthAdjust="spacingAndGlyphs">0.0030</text>
<text x="162.0" y="164.86" font-size="16" text-anchor="end" textLength="53.0" lengthAdjust="spacingAndGlyphs">0.0025</text>
<text x="162.0" y="215.19" font-size="16" text-anchor="end" textLength="53.0" lengthAdjust="spacingAndGlyphs">0.0020</text>
<text x="162.0" y="265.52" font-size="16" text-anchor="end" textLength="53.0" lengthAdjust="spacingAndGlyphs">0.0015</text>
<text x="162.0" y="315.85" font-size="16" text-anchor="end" textLength="53.0" lengthAdjust="spacingAndGlyphs">0.0010</text>
<text x="162.0" y="366.18" font-size="16" text-anchor="end" textLength="53.0" lengthAdjust="spacingAndGlyphs">0.0005</text>
<text x="162.0" y="415.80" font-size="16" text-anchor="end" textLength="53.0" lengthAdjust="spacingAndGlyphs">0.0000</text>
<text x="232.70" y="434.7" font-size="16" text-anchor="middle" textLength="27.8" lengthAdjust="spacingAndGlyphs">500</text>
<text x="325.40" y="434.7" font-size="16" text-anchor="middle" textLength="37.6" lengthAdjust="spacingAndGlyphs">1000</text>
<text x="417.30" y="434.7" font-size="16" text-anchor="middle" textLength="37.6" lengthAdjust="spacingAndGlyphs">1500</text>
<text transform="translate(100.2,233.4) rotate(-90)" font-size="18" text-anchor="middle" textLength="61.8" lengthAdjust="spacingAndGlyphs">Density</text>
<text x="-36.43" y="35.7" font-size="16" text-anchor="start" textLength="37.99" lengthAdjust="spacingAndGlyphs">Kubo</text>
<text x="1.56" y="35.7" font-size="16" text-anchor="start" textLength="15.36" lengthAdjust="spacingAndGlyphs">ta</text>
<text x="21.77" y="35.7" font-size="16" text-anchor="start" textLength="52.41" lengthAdjust="spacingAndGlyphs">Spears</text>
<text x="79.04" y="35.7" font-size="16" text-anchor="start" textLength="77.21" lengthAdjust="spacingAndGlyphs">Simulated</text>
<text x="161.11" y="35.7" font-size="16" text-anchor="start" textLength="104.79" lengthAdjust="spacingAndGlyphs">Performances</text>
<text x="341.00" y="35.7" font-size="16" text-anchor="start" textLength="77.60" lengthAdjust="spacingAndGlyphs">Yokohama</text>
<text x="423.46" y="35.7" font-size="16" text-anchor="start" textLength="48.75" lengthAdjust="spacingAndGlyphs">Canon</text>
<text x="477.07" y="35.7" font-size="16" text-anchor="start" textLength="50.32" lengthAdjust="spacingAndGlyphs">Eagles</text>
<text x="532.25" y="35.7" font-size="16" text-anchor="start" textLength="77.21" lengthAdjust="spacingAndGlyphs">Simulated</text>
<text x="614.32" y="35.7" font-size="16" text-anchor="start" textLength="24.35" lengthAdjust="spacingAndGlyphs">Per</text>
<text x="638.68" y="35.7" font-size="16" text-anchor="start" textLength="80.44" lengthAdjust="spacingAndGlyphs">formances</text>
<text x="217.77" y="457.8" font-size="18" text-anchor="start" textLength="84.24" lengthAdjust="spacingAndGlyphs">Simulated</text>
<text x="307.31" y="457.8" font-size="18" text-anchor="start" textLength="114.32" lengthAdjust="spacingAndGlyphs">Performances</text>
</svg>
</body></html>
